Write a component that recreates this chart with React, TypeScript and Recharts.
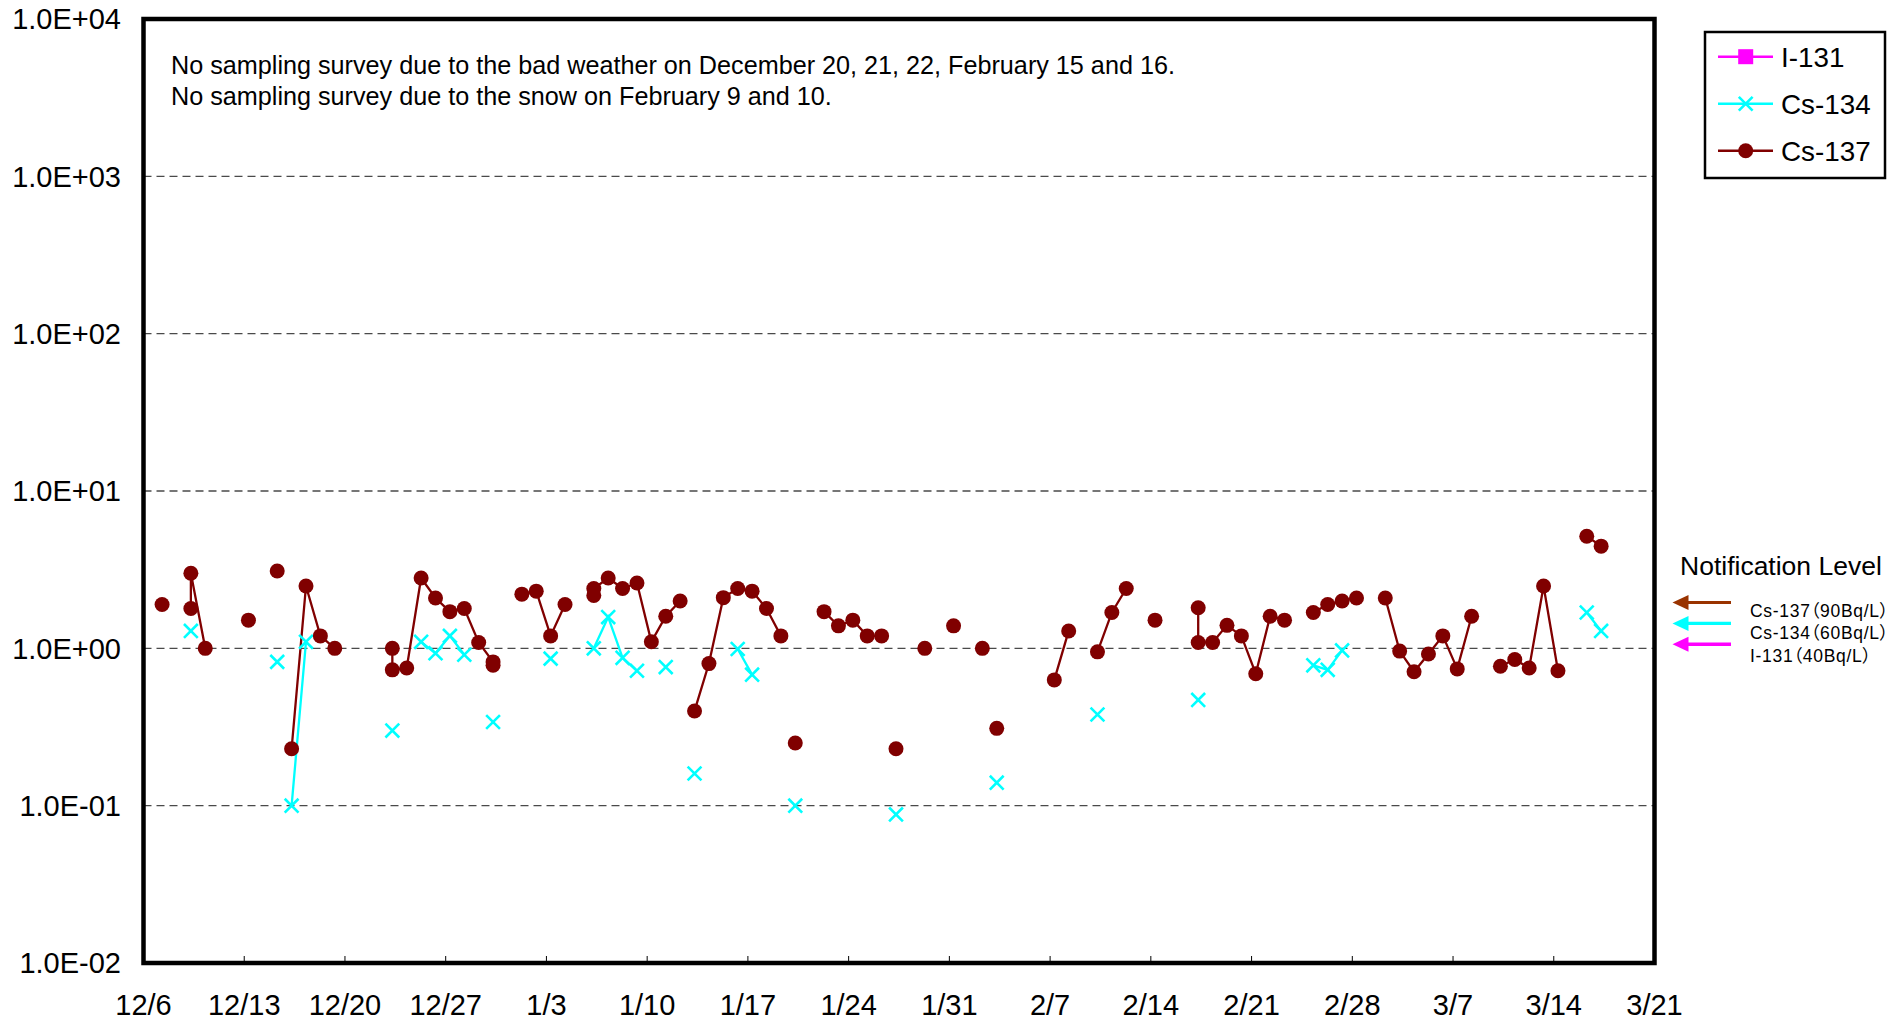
import React from "react";
import { LineChart, Line, XAxis, YAxis, CartesianGrid, ReferenceArea } from "recharts";

const FONT = '"Liberation Sans", Arial, Helvetica, sans-serif';

// one entry per row of the sampling sheet; null = not sampled / not detected
const DATES = [
  "12/7", "12/8", "12/9", "12/9", "12/10", "12/11", "12/13", "12/14", "12/15", "12/16",
  "12/16", "12/17", "12/18", "12/19", "12/20", "12/23", "12/23", "12/24", "12/25", "12/26",
  "12/27", "12/28", "12/29", "12/30", "12/30", "12/31", "1/1", "1/2", "1/3", "1/4",
  "1/5", "1/6", "1/6", "1/7", "1/8", "1/9", "1/10", "1/11", "1/12", "1/13",
  "1/13", "1/14", "1/15", "1/16", "1/17", "1/18", "1/19", "1/20", "1/20", "1/21",
  "1/22", "1/23", "1/24", "1/25", "1/26", "1/27", "1/27", "1/28", "1/29", "1/30",
  "1/31", "2/1", "2/2", "2/3", "2/3", "2/4", "2/7", "2/8", "2/9", "2/10",
  "2/11", "2/12", "2/13", "2/14", "2/15", "2/17", "2/17", "2/18", "2/19", "2/20",
  "2/21", "2/22", "2/23", "2/24", "2/25", "2/26", "2/27", "2/28", "3/1", "3/2",
  "3/3", "3/4", "3/5", "3/6", "3/7", "3/8", "3/9", "3/10", "3/11", "3/12",
  "3/13", "3/14", "3/15", "3/16", "3/17",
];

const CS137: (number | null)[] = [
  1.9, null, 1.79, 3.0, 1.0, null, 1.51, null, 3.1, null,
  0.23, 2.49, 1.2, 1.0, null, 1.0, 0.73, 0.75, 2.8, 2.09,
  1.71, 1.79, 1.09, 0.82, 0.78, null, 2.21, 2.31, 1.2, 1.9,
  null, 2.17, 2.4, 2.8, 2.4, 2.6, 1.1, 1.6, 2.0, null,
  0.4, 0.8, 2.1, 2.4, 2.31, 1.79, 1.2, null, 0.25, null,
  1.71, 1.39, 1.51, 1.2, 1.2, null, 0.23, null, 1.0, null,
  1.39, null, 1.0, null, 0.31, null, 0.63, 1.29, null, 0.95,
  1.69, 2.4, null, 1.51, null, 1.81, 1.09, 1.09, 1.4, 1.2,
  0.69, 1.6, 1.51, null, 1.69, 1.9, 2.0, 2.09, null, 2.09,
  0.96, 0.71, 0.92, 1.2, 0.74, 1.6, null, 0.77, 0.85, 0.75,
  2.49, 0.72, null, 5.16, 4.46,
];

const CS134: (number | null)[] = [
  null, null, null, 1.29, null, null, null, null, 0.82, null,
  0.1, 1.1, null, null, null, null, 0.3, null, 1.1, 0.93,
  1.2, 0.91, null, null, 0.34, null, null, null, 0.86, null,
  null, null, 1.0, 1.58, 0.87, 0.72, null, 0.76, null, null,
  0.16, null, null, 0.99, 0.68, null, null, null, 0.1, null,
  null, null, null, null, null, null, 0.088, null, null, null,
  null, null, null, null, 0.14, null, null, null, null, 0.38,
  null, null, null, null, null, null, 0.47, null, null, null,
  null, null, null, null, 0.78, 0.73, 0.97, null, null, null,
  null, null, null, null, null, null, null, null, null, null,
  null, null, null, 1.69, 1.29,
];

const TICK_LABELS = [
  "12/6", "12/13", "12/20", "12/27", "1/3", "1/10", "1/17", "1/24",
  "1/31", "2/7", "2/14", "2/21", "2/28", "3/7", "3/14", "3/21",
];
const Y_TICKS = [0.01, 0.1, 1, 10, 100, 1000, 10000];

const NOTES = [
  "No sampling survey due to the bad weather on December 20, 21, 22, February 15 and 16.",
  "No sampling survey due to the snow on February 9 and 10.",
];

const LEGEND = [
  { name: "I-131", color: "#FF00FF", shape: "square" },
  { name: "Cs-134", color: "#00FFFF", shape: "cross" },
  { name: "Cs-137", color: "#800000", shape: "circle" },
];

const LEVELS = [
  { label: "Cs-137（90Bq/L）", color: "#993300" },
  { label: "Cs-134（60Bq/L）", color: "#00FFFF" },
  { label: "I-131（40Bq/L）", color: "#FF00FF" },
];

const SAMPLE_HOUR = 7; // samples taken in the morning

const dayOf = (md: string) => {
  const [m, d] = md.split("/").map(Number);
  const year = m === 12 ? 2012 : 2013;
  return (Date.UTC(year, m - 1, d) - Date.UTC(2012, 11, 6)) / 86400000;
};

const sci = (v: number) => {
  const e = Math.round(Math.log10(v));
  return `1.0E${e < 0 ? "-" : "+"}${String(Math.abs(e)).padStart(2, "0")}`;
};

const data = DATES.map((d, i) => ({
  t: dayOf(d) + SAMPLE_HOUR / 24,
  cs137: CS137[i],
  cs134: CS134[i],
}));

const tickDays = TICK_LABELS.map(dayOf);
const xDomain = [tickDays[0], tickDays[tickDays.length - 1]];

const crossPath = (cx: number, cy: number, s: number) =>
  `M${cx - s},${cy - s}L${cx + s},${cy + s}M${cx - s},${cy + s}L${cx + s},${cy - s}`;

const CircleDot = (p: any) => {
  if (p.cy == null || p.value == null) return <g key={p.key} />;
  return <circle key={p.key} cx={p.cx} cy={p.cy} r={7.5} fill="#800000" />;
};

const CrossDot = (p: any) => {
  if (p.cy == null || p.value == null) return <g key={p.key} />;
  return <path key={p.key} d={crossPath(p.cx, p.cy, 6.9)} stroke="#00FFFF" strokeWidth={2.6} fill="none" />;
};

const XTick = (props: any) => {
  const { x, y, index } = props;
  const label = TICK_LABELS[index] ?? "";
  const edge = index === 0 || index === TICK_LABELS.length - 1;
  return (
    <g>
      {!edge && <line x1={x} x2={x} y1={y} y2={y - 7} stroke="#000" strokeWidth={1} />}
      <text x={x} y={y + 52} textAnchor="middle" fontSize={29} fontFamily={FONT} fill="#000">
        {label}
      </text>
    </g>
  );
};

function Overlay() {
  return (
    <svg
      width={1904}
      height={1024}
      style={{ position: "absolute", left: 0, top: 0, pointerEvents: "none" }}
    >
      {NOTES.map((n, i) => (
        <text key={n} x={171} y={74 + i * 30.8} fontSize={25.2} fontFamily={FONT} fill="#000">
          {n}
        </text>
      ))}

      <rect x={1705} y={32} width={180} height={146} fill="#fff" stroke="#000" strokeWidth={2.5} />
      {LEGEND.map((s, i) => {
        const cy = 56.7 + i * 47;
        const cx = 1745.7;
        return (
          <g key={s.name}>
            <line x1={1718} x2={1773} y1={cy} y2={cy} stroke={s.color} strokeWidth={2.5} />
            {s.shape === "square" && <rect x={cx - 7.5} y={cy - 7.5} width={15} height={15} fill={s.color} />}
            {s.shape === "circle" && <circle cx={cx} cy={cy} r={7.5} fill={s.color} />}
            {s.shape === "cross" && <path d={crossPath(cx, cy, 6.9)} stroke={s.color} strokeWidth={2.6} />}
            <text x={1781} y={cy + 9.8} fontSize={27.8} fontFamily={FONT} fill="#000">
              {s.name}
            </text>
          </g>
        );
      })}

      <text x={1680} y={575} fontSize={26.5} fontFamily={FONT} fill="#000">
        Notification Level
      </text>
      {LEVELS.map((l, i) => {
        const ay = 602.5 + i * 20.9;
        const ty = 616.7 + i * 22.5;
        return (
          <g key={l.label}>
            <line x1={1684} x2={1731} y1={ay} y2={ay} stroke={l.color} strokeWidth={i === 0 ? 2.8 : 3.4} />
            <path d={`M1672.5,${ay}L1688.5,${ay - 7.5}L1688.5,${ay + 7.5}Z`} fill={l.color} />
            <text
              x={1750}
              y={ty}
              fontSize={17.5}
              fontFamily={`${FONT}, "Noto Sans CJK JP"`}
              style={{ fontFeatureSettings: '"palt"', letterSpacing: "0.7px" }}
              fill="#000"
            >
              {l.label}
            </text>
          </g>
        );
      })}
    </svg>
  );
}

export default function App() {
  return (
    <div style={{ position: "absolute", left: 0, top: 0, width: 1904, height: 1024, background: "#fff" }}>
      <LineChart
        width={1904}
        height={1024}
        data={data}
        margin={{ top: 19, right: 249.5, bottom: 0, left: 0 }}
      >
        <CartesianGrid vertical={false} stroke="#4a4a4a" strokeDasharray="8 5" strokeWidth={1.3} />
        <XAxis
          type="number"
          dataKey="t"
          domain={xDomain}
          ticks={tickDays}
          interval={0}
          allowDataOverflow
          height={61}
          axisLine={false}
          tickLine={false}
          tickSize={0}
          tickMargin={0}
          tick={<XTick />}
        />
        <YAxis
          scale="log"
          domain={[0.01, 10000]}
          ticks={Y_TICKS}
          interval={0}
          allowDataOverflow
          width={143.5}
          axisLine={false}
          tickLine={false}
          tickSize={0}
          tickMargin={22.5}
          tickFormatter={sci}
          tick={{ fontSize: 29, fill: "#000", fontFamily: FONT }}
        />
        <Line
          type="linear"
          dataKey="cs134"
          stroke="#00FFFF"
          strokeWidth={2.3}
          dot={CrossDot}
          activeDot={false}
          connectNulls={false}
          isAnimationActive={false}
        />
        <Line
          type="linear"
          dataKey="cs137"
          stroke="#800000"
          strokeWidth={2.3}
          dot={CircleDot}
          activeDot={false}
          connectNulls={false}
          isAnimationActive={false}
        />
        <ReferenceArea
          x1={xDomain[0]}
          x2={xDomain[1]}
          y1={0.01}
          y2={10000}
          fill="none"
          stroke="#000"
          strokeWidth={4.5}
          ifOverflow="visible"
        />
      </LineChart>
      <Overlay />
    </div>
  );
}
